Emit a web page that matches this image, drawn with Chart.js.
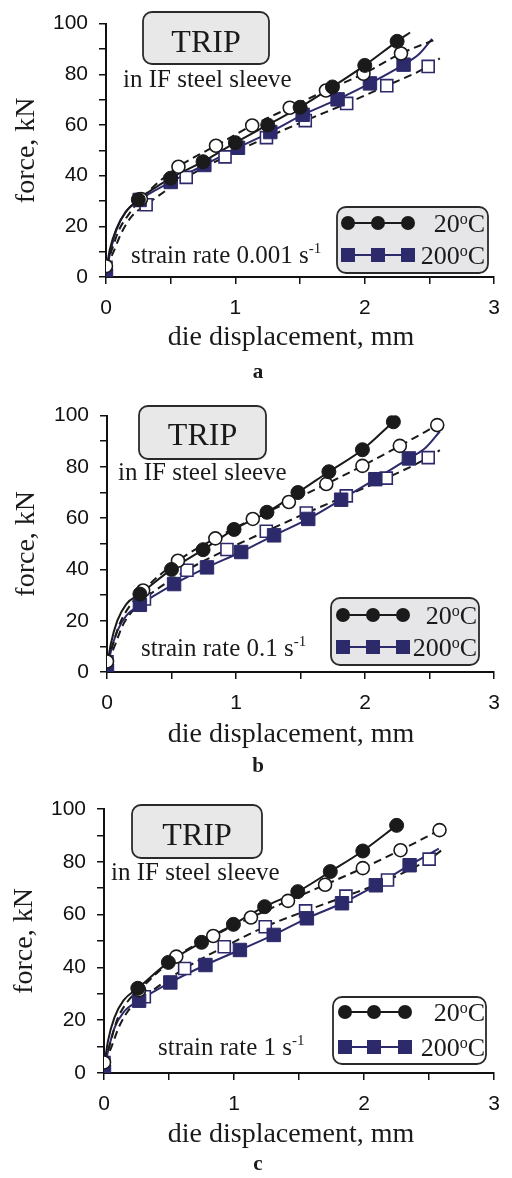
<!DOCTYPE html>
<html>
<head>
<meta charset="utf-8">
<script src="https://cdn.jsdelivr.net/npm/chart.js@4.4.0/dist/chart.umd.min.js"></script>
<style>
    body { margin: 0; background: #fff; }
    .panel { position: relative; width: 512px; }
    canvas { display: block; }
</style>
</head>
<body>
<div class="panel"><canvas id="chartA" width="512" height="392"></canvas></div>
<div class="panel"><canvas id="chartB" width="512" height="393"></canvas></div>
<div class="panel"><canvas id="chartC" width="512" height="393"></canvas></div>
<script>
// axis ticks
const xTicks = [0, 1, 2, 3];
const yTicks = [0, 20, 40, 60, 80, 100];

// panel a, strain rate 0.001 1/s  (m = markers, e = extra curve points)
const a20mx = [0.25, 0.5, 0.75, 1.0, 1.25, 1.5, 1.75, 2.0, 2.25];
const a20my = [30.5, 39, 45.5, 53, 60, 67, 75, 83.5, 93];
const a20ex = [0, 0.03, 0.08, 0.15, 2.35];
const a20ey = [2, 11, 19, 25.5, 96.5];
const a20omx = [0, 0.27, 0.56, 0.85, 1.13, 1.42, 1.7, 1.99, 2.28];
const a20omy = [4.3, 30.8, 43.5, 51.8, 59.8, 66.8, 73.6, 80.2, 88.2];
const a20oex = [0.04, 0.1, 0.18, 2.53];
const a20oey = [10, 18.5, 25, 93.4];
const a200mx = [0, 0.26, 0.5, 0.76, 1.02, 1.27, 1.52, 1.79, 2.04, 2.3];
const a200my = [0.5, 30.4, 37.5, 44.2, 51, 57.2, 64, 70.1, 76.4, 83.8];
const a200ex = [0.03, 0.08, 0.15, 2.42, 2.52];
const a200ey = [9, 18.5, 25.5, 88, 94];
const a200omx = [0, 0.31, 0.62, 0.92, 1.24, 1.54, 1.86, 2.17, 2.49];
const a200omy = [3.8, 28.5, 39.3, 47.4, 55, 61.7, 68.5, 75.5, 83.1];
const a200oex = [0.05, 0.12, 0.2, 2.58];
const a200oey = [9, 17.5, 24, 86.3];

// panel b, strain rate 0.1 1/s
const b20mx = [0.255, 0.5, 0.745, 0.985, 1.24, 1.48, 1.72, 1.98, 2.22];
const b20my = [30.4, 40, 47.7, 55.6, 62.3, 70, 78.1, 86.7, 97.6];
const b20ex = [0, 0.03, 0.08, 0.15];
const b20ey = [2, 11, 20, 26.5];
const b20omx = [0, 0.28, 0.55, 0.84, 1.13, 1.41, 1.7, 1.98, 2.27, 2.56];
const b20omy = [4.1, 31.8, 43.4, 52.1, 59.7, 66.3, 73.3, 80.4, 88.2, 96.3];
const b20oex = [0.04, 0.1, 0.18];
const b20oey = [10, 19, 26];
const b200mx = [0, 0.255, 0.52, 0.775, 1.04, 1.295, 1.56, 1.815, 2.08, 2.34];
const b200my = [0.5, 26.2, 34.3, 40.8, 46.8, 53.3, 59.7, 67.2, 75.2, 83.3];
const b200ex = [0.03, 0.08, 0.15, 2.47, 2.58];
const b200ey = [8, 16, 22, 87.5, 93.8];
const b200omx = [0, 0.29, 0.62, 0.93, 1.235, 1.545, 1.855, 2.165, 2.49];
const b200omy = [4, 28.5, 39.7, 47.8, 54.9, 62, 68.7, 75.6, 83.6];
const b200oex = [0.05, 0.12, 0.2, 2.58];
const b200oey = [9, 18, 24, 86.5];

// panel c, strain rate 1 1/s
const c20mx = [0.26, 0.495, 0.75, 0.995, 1.235, 1.49, 1.74, 1.99, 2.25];
const c20my = [32.1, 41.9, 49.5, 56.3, 63, 68.7, 76.3, 84.1, 93.8];
const c20ex = [0, 0.03, 0.08, 0.15];
const c20ey = [2, 12, 21, 27.5];
const c20omx = [0, 0.27, 0.556, 0.84, 1.13, 1.415, 1.7, 1.99, 2.28, 2.58];
const c20omy = [4, 31.4, 44.1, 51.9, 58.9, 65.2, 71.3, 77.6, 84.4, 92];
const c20oex = [0.04, 0.1, 0.18];
const c20oey = [10, 20, 27];
const c200mx = [0, 0.27, 0.51, 0.78, 1.045, 1.305, 1.56, 1.83, 2.09, 2.35];
const c200my = [0.5, 27.4, 34.3, 40.9, 46.6, 52.3, 58.6, 64.3, 71.1, 78.7];
const c200ex = [0.03, 0.08, 0.15, 2.575];
const c200ey = [8, 17, 23, 85];
const c200omx = [0, 0.31, 0.62, 0.925, 1.24, 1.55, 1.86, 2.18, 2.5];
const c200omy = [4, 28.9, 39.6, 47.8, 55.4, 61.4, 67, 73.1, 81];
const c200oex = [0.05, 0.12, 0.2, 2.6];
const c200oey = [9, 18, 24.5, 84.5];

const BLACK = "#1a1a1a";
const NAVY = "#2d2a6b";
const serif = '"Liberation Serif", "Times New Roman", serif';
const sans = '"Liberation Sans", Arial, sans-serif';

const STYLE = {
    hot:  { line: BLACK, dash: [], shape: "circle", r: 7, fill: BLACK, stroke: BLACK, bw: 1 },
    hotO: { line: BLACK, dash: [8, 5], shape: "circle", r: 6.5, fill: "#ffffff", stroke: BLACK, bw: 1.6 },
    warm: { line: NAVY, dash: [], shape: "rect", r: 9.5, fill: NAVY, stroke: NAVY, bw: 1 },
    warmO:{ line: BLACK, dash: [8, 5], shape: "rect", r: 8.5, fill: "#ffffff", stroke: NAVY, bw: 1.6 }
};

function pts(xs, ys) {
    return xs.map((x, i) => ({ x: x, y: ys[i] }));
}

function series(mx, my, ex, ey, kind) {
    const st = STYLE[kind];
    const path = pts(mx, my).concat(pts(ex, ey)).sort((p, q) => p.x - q.x);
    return [
        { data: pts(mx, my), showLine: false, order: 0, pointStyle: st.shape, pointRadius: st.r,
          pointBackgroundColor: st.fill, pointBorderColor: st.stroke, pointBorderWidth: st.bw },
        { data: path, order: 1, borderColor: st.line, borderWidth: 2, borderDash: st.dash,
          pointRadius: 0, cubicInterpolationMode: "monotone", fill: false }
    ];
}

function roundBox(ctx, x, y, w, h, r, fill) {
    ctx.beginPath();
    ctx.moveTo(x + r, y);
    ctx.arcTo(x + w, y, x + w, y + h, r);
    ctx.arcTo(x + w, y + h, x, y + h, r);
    ctx.arcTo(x, y + h, x, y, r);
    ctx.arcTo(x, y, x + w, y, r);
    ctx.closePath();
    ctx.fillStyle = fill;
    ctx.fill();
    ctx.lineWidth = 1.8;
    ctx.strokeStyle = "#2a2a2a";
    ctx.stroke();
}

// text with superscript parts: [[text, isSup], ...]
function richText(ctx, parts, x, y, size, align, rise) {
    const sup = Math.round(size * 0.6);
    const widths = parts.map(p => {
        ctx.font = (p[1] ? sup : size) + "px " + serif;
        return ctx.measureText(p[0]).width;
    });
    const total = widths.reduce((a, b) => a + b, 0);
    let cx = align === "right" ? x - total : align === "center" ? x - total / 2 : x;
    ctx.textAlign = "left";
    ctx.textBaseline = "alphabetic";
    parts.forEach((p, i) => {
        ctx.font = (p[1] ? sup : size) + "px " + serif;
        ctx.fillText(p[0], cx, p[1] ? y - size * rise : y);
        cx += widths[i];
    });
}

function marker(ctx, shape, x, y, color) {
    ctx.fillStyle = color;
    ctx.beginPath();
    if (shape === "circle") ctx.arc(x, y, 7, 0, Math.PI * 2);
    else ctx.rect(x - 7, y - 7, 14, 14);
    ctx.fill();
}

function notes(n) {
    return {
        id: "notes",
        afterDraw(chart) {
            const ctx = chart.ctx;
            const area = chart.chartArea;
            ctx.save();
            roundBox(ctx, n.trip[0], n.trip[1], n.trip[2], n.trip[3], 9, "#e8e8e8");
            ctx.fillStyle = BLACK;
            ctx.font = "32px " + serif;
            ctx.textAlign = "center";
            ctx.textBaseline = "alphabetic";
            ctx.fillText("TRIP", n.trip[0] + n.trip[2] / 2, n.tripY);
            ctx.font = "25px " + serif;
            ctx.textAlign = "left";
            ctx.fillText("in IF steel sleeve", n.sleeve[0], n.sleeve[1]);
            richText(ctx, [["strain rate " + n.rate + " s", false], ["-1", true]], n.strain[0], n.strain[1], 25, "left", 0.4);

            // legend
            const lg = n.legend;
            roundBox(ctx, lg.box[0], lg.box[1], lg.box[2], lg.box[3], 9, lg.fill);
            const rows = [
                { color: BLACK, shape: "circle", label: "20" },
                { color: NAVY, shape: "rect", label: "200" }
            ];
            rows.forEach((row, i) => {
                const y = lg.rows[i];
                ctx.strokeStyle = row.color;
                ctx.lineWidth = 2;
                ctx.beginPath();
                ctx.moveTo(lg.mx[0], y);
                ctx.lineTo(lg.mx[2], y);
                ctx.stroke();
                lg.mx.forEach(x => marker(ctx, row.shape, x, y, row.color));
                ctx.fillStyle = BLACK;
                richText(ctx, [[row.label, false], ["o", true], ["C", false]], lg.right, y + 9, 26, "right", 0.3);
            });

            // axis titles and panel letter
            ctx.fillStyle = BLACK;
            ctx.font = "28px " + serif;
            ctx.textAlign = "center";
            ctx.fillText("die displacement, mm", 291, n.xTitleY);
            ctx.save();
            ctx.translate(n.yTitleX, (area.top + area.bottom) / 2);
            ctx.rotate(-Math.PI / 2);
            ctx.textBaseline = "middle";
            ctx.fillText("force, kN", 0, 0);
            ctx.restore();
            ctx.font = "bold 21px " + serif;
            ctx.textAlign = "center";
            ctx.fillText(n.letter, 258, n.letterY);
            ctx.restore();
        }
    };
}

function makeChart(id, box, datasets, n) {
    const H = box.H, L = box.L, R = box.R, T = box.T, B = box.B;
    const ctx = document.getElementById(id).getContext("2d");
    return new Chart(ctx, {
        type: "line",
        data: { datasets: datasets },
        options: {
            responsive: false,
            animation: false,
            layout: { padding: { top: T, right: 512 - R, bottom: 0, left: 0 } },
            plugins: { legend: { display: false }, tooltip: { enabled: false } },
            scales: {
                x: {
                    type: "linear", min: 0, max: 3,
                    afterFit: s => { s.height = H - B; },
                    ticks: {
                        stepSize: 0.5, autoSkip: false, maxRotation: 0, padding: 12, color: "#111",
                        font: { family: sans, size: 21 },
                        callback: v => xTicks.includes(v) ? v : ""
                    },
                    grid: { drawOnChartArea: false, tickLength: 7, color: "#111", lineWidth: 1.5 },
                    border: { color: "#111", width: 2 }
                },
                y: {
                    type: "linear", min: 0, max: 100,
                    afterFit: s => { s.width = L; },
                    ticks: {
                        stepSize: 10, autoSkip: false, padding: 11, color: "#111",
                        font: { family: sans, size: 21 },
                        callback: v => yTicks.includes(v) ? v : ""
                    },
                    grid: { drawOnChartArea: false, tickLength: 7, color: "#111", lineWidth: 1.5 },
                    border: { color: "#111", width: 2 }
                }
            }
        },
        plugins: [notes(n)]
    });
}

document.addEventListener("DOMContentLoaded", () => {
    // Panel a
    makeChart("chartA", { H: 392, L: 106, R: 496, T: 16, B: 277 }, [].concat(
        series(a20mx, a20my, a20ex, a20ey, "hot"),
        series(a20omx, a20omy, a20oex, a20oey, "hotO"),
        series(a200mx, a200my, a200ex, a200ey, "warm"),
        series(a200omx, a200omy, a200oex, a200oey, "warmO")
    ), {
        trip: [143, 12, 126, 52], tripY: 52, sleeve: [123, 87], rate: "0.001", strain: [131, 263],
        legend: { box: [337, 207, 151, 66], fill: "#e6e6e8", rows: [223, 255], mx: [348, 378, 408], right: 485 },
        xTitleY: 345, yTitleX: 27, letter: "a", letterY: 378
    });

    // Panel b
    makeChart("chartB", { H: 393, L: 107, R: 494, T: 21, B: 280 }, [].concat(
        series(b20mx, b20my, b20ex, b20ey, "hot"),
        series(b20omx, b20omy, b20oex, b20oey, "hotO"),
        series(b200mx, b200my, b200ex, b200ey, "warm"),
        series(b200omx, b200omy, b200oex, b200oey, "warmO")
    ), {
        trip: [139, 14, 127, 53], tripY: 53, sleeve: [118, 88], rate: "0.1", strain: [141, 264],
        legend: { box: [331, 206, 148, 67], fill: "#e6e6e8", rows: [223, 255], mx: [343, 373, 403], right: 477 },
        xTitleY: 350, yTitleX: 27, letter: "b", letterY: 380
    });

    // Panel c
    makeChart("chartC", { H: 393, L: 104, R: 499, T: 24, B: 288 }, [].concat(
        series(c20mx, c20my, c20ex, c20ey, "hot"),
        series(c20omx, c20omy, c20oex, c20oey, "hotO"),
        series(c200mx, c200my, c200ex, c200ey, "warm"),
        series(c200omx, c200omy, c200oex, c200oey, "warmO")
    ), {
        trip: [132, 20, 130, 53], tripY: 60, sleeve: [111, 95], rate: "1", strain: [158, 270],
        legend: { box: [333, 212, 153, 67], fill: "#ffffff", rows: [227, 262], mx: [345, 374, 405], right: 485 },
        xTitleY: 357, yTitleX: 25, letter: "c", letterY: 385
    });
});
</script>
</body>
</html>
